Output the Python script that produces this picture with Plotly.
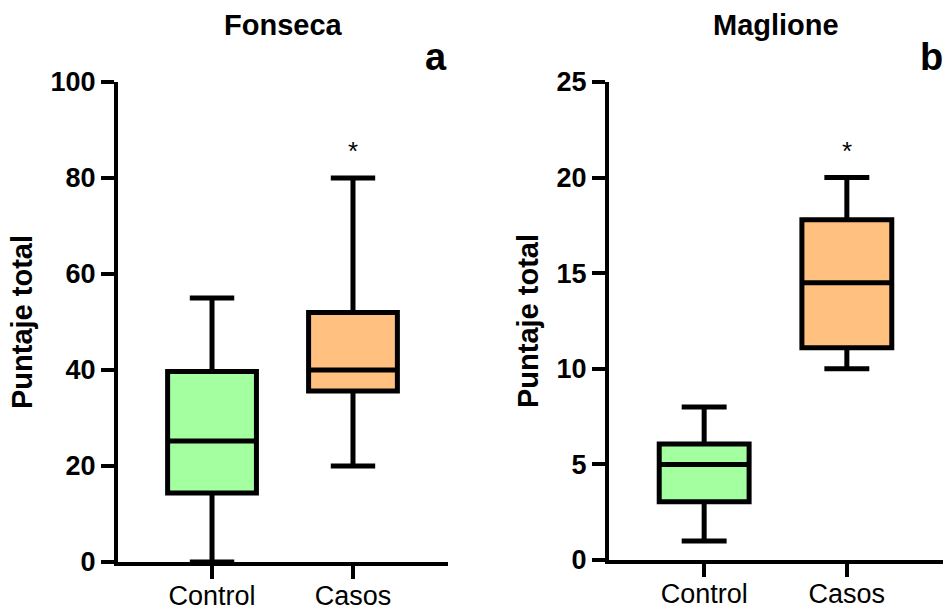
import plotly.graph_objects as go

# ---- data ----
categories = ["Control", "Casos"]

fonseca_q1 = [14.4, 35.6]
fonseca_median = [25.2, 40.0]
fonseca_q3 = [39.7, 52.0]
fonseca_low = [0.0, 20.0]
fonseca_high = [55.0, 80.0]

maglione_q1 = [3.05, 11.1]
maglione_median = [5.0, 14.5]
maglione_q3 = [6.07, 17.8]
maglione_low = [1.0, 10.0]
maglione_high = [8.0, 20.0]

fill_colors = ["#A3FFA0", "#FFC080"]
panel_titles = ["Fonseca", "Maglione"]
panel_letters = ["a", "b"]
y_title = "Puntaje total"
fonseca_ticks = [0, 20, 40, 60, 80, 100]
maglione_ticks = [0, 5, 10, 15, 20, 25]
star_y = [85.6, 21.4]  # '*' above the Casos group

FONT = "Liberation Sans"
W, H = 943, 610

fig = go.Figure()

panels = [
    ("x", "y", fonseca_q1, fonseca_median, fonseca_q3, fonseca_low, fonseca_high),
    ("x2", "y2", maglione_q1, maglione_median, maglione_q3, maglione_low, maglione_high),
]
for xa, ya, q1, med, q3, lo, hi in panels:
    for i, cat in enumerate(categories):
        fig.add_trace(go.Box(
            x=[cat], q1=[q1[i]], median=[med[i]], q3=[q3[i]],
            lowerfence=[lo[i]], upperfence=[hi[i]],
            orientation="v", boxpoints=False,
            fillcolor=fill_colors[i],
            line=dict(color="black", width=5),
            width=0.63, whiskerwidth=0.5,
            showlegend=False, xaxis=xa, yaxis=ya,
        ))

xdom = [[118 / W, 448 / W], [609 / W, 1.0]]
ydom = [[48 / H, 528 / H], [50 / H, 528 / H]]

common_x = dict(
    type="category", categoryorder="array", categoryarray=categories,
    range=[-0.667, 1.674], showline=True, linecolor="black", linewidth=4,
    ticks="outside", ticklen=13, tickwidth=4, tickcolor="black",
    ticklabelstandoff=-6,
    showgrid=False, zeroline=False, automargin=False,
    tickfont=dict(family=FONT, size=27, color="black"),
)
common_y = dict(
    showline=True, linecolor="black", linewidth=4,
    ticks="outside", ticklen=13, tickwidth=4, tickcolor="black",
    showgrid=False, zeroline=False, automargin=False,
    tickfont=dict(family=FONT, size=27, color="black", weight="bold"),
    title=dict(text=y_title, font=dict(family=FONT, size=29, color="black", weight="bold"),
               standoff=10),
)

fig.update_layout(
    template="none",
    width=W, height=H,
    margin=dict(l=0, r=0, t=0, b=0, pad=0),
    paper_bgcolor="white", plot_bgcolor="white",
    boxmode="overlay",
    xaxis=dict(common_x, domain=xdom[0], anchor="y"),
    yaxis=dict(common_y, domain=ydom[0], anchor="x", range=[0, 100],
               tickvals=fonseca_ticks),
    xaxis2=dict(common_x, domain=xdom[1], anchor="y2"),
    yaxis2=dict(common_y, domain=ydom[1], anchor="x2", range=[0, 25],
                tickvals=maglione_ticks),
)

annotations = []
for k in range(2):
    cx = (xdom[k][0] + xdom[k][1]) / 2
    annotations.append(dict(
        text=panel_titles[k], xref="paper", yref="paper", x=cx, y=(H - 25) / H,
        xanchor="center", yanchor="middle", showarrow=False,
        font=dict(family=FONT, size=29, color="black", weight="bold"),
    ))
    annotations.append(dict(
        text=panel_letters[k], xref="paper", yref="paper",
        x=xdom[k][1] - 12 / W, y=(H - 57) / H,
        xanchor="center", yanchor="middle", showarrow=False,
        font=dict(family=FONT, size=38, color="black", weight="bold"),
    ))
    annotations.append(dict(
        text="*", xref="x" if k == 0 else "x2", yref="y" if k == 0 else "y2",
        x=categories[1], y=star_y[k], xanchor="center", yanchor="middle",
        showarrow=False, font=dict(family=FONT, size=26, color="black"),
    ))
fig.update_layout(annotations=annotations)

fig.write_html(
    "out.html",
    config={"displayModeBar": False},
    post_script="document.body.style.margin='0';document.body.style.overflow='hidden';",
)
